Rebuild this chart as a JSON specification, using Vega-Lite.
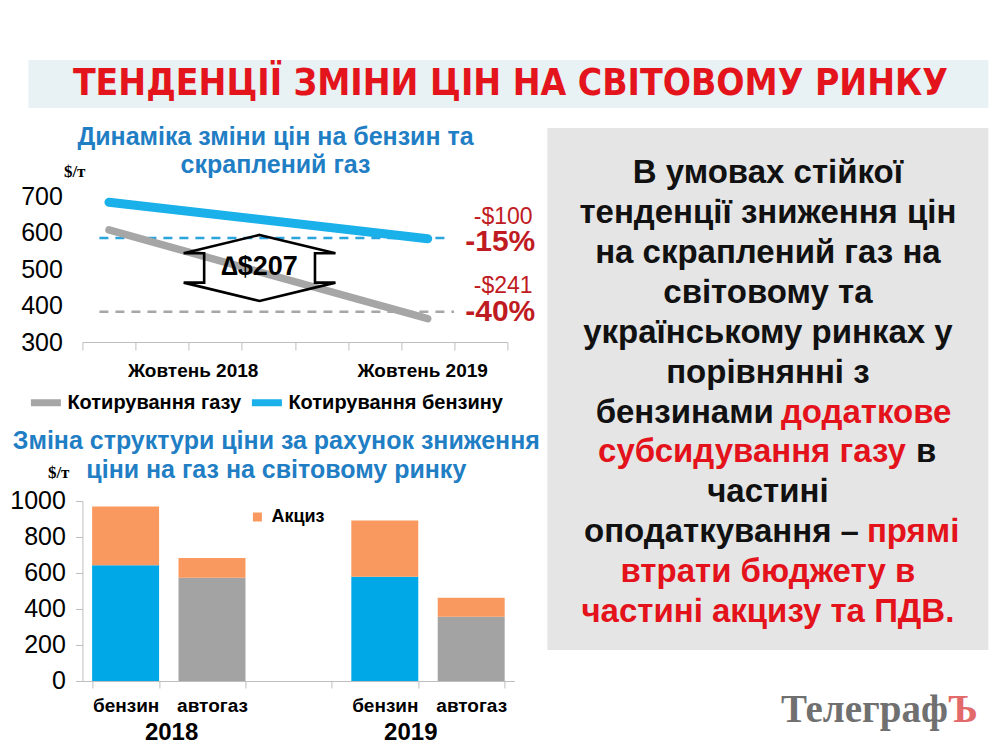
{
  "$schema": "https://vega.github.io/schema/vega-lite/v6.json",
  "autosize": {"type": "pad"},
  "padding": {"left": 9.4, "top": 60, "right": 12, "bottom": 5},
  "background": "white",
  "bounds": "flush",
  "spacing": 20,
  "config": {
    "view": {"stroke": null},
    "font": "Liberation Sans",
    "axis": {"labelFont": "Liberation Sans", "titleFont": "Liberation Sans"},
    "legend": {"labelFont": "Liberation Sans"}
  },
  "resolve": {"scale": {"color": "independent"}, "legend": {"color": "independent"}},
  "vconcat": [
    {
      "width": 960,
      "height": 48,
      "view": {"fill": "#e8f1f3", "stroke": null},
      "data": {"values": [{"title": "ТЕНДЕНЦІЇ ЗМІНИ ЦІН НА СВІТОВОМУ РИНКУ"}]},
      "mark": {"type": "text", "font": "Liberation Sans Narrow, DejaVu Sans Condensed, sans-serif", "fontWeight": "bold", "fontSize": 37, "color": "#e3141b", "dx": 2},
      "encoding": {"text": {"field": "title"}}
    },
    {
      "bounds": "flush",
      "spacing": 33,
      "resolve": {"scale": {"color": "independent"}, "legend": {"color": "independent"}},
      "hconcat": [
        {
          "width": 486,
          "height": 553,
          "layer": [
            {
              "layer": [
                {
                  "data": {"values": [{}]},
                  "mark": {"type": "rule", "color": "#2aa4dc", "strokeWidth": 2.5, "strokeDash": [9, 7]},
                  "encoding": {"y": {"datum": 585}, "x": {"datum": -0.36}, "x2": {"datum": 12.86}}
                },
                {
                  "data": {"values": [{}]},
                  "mark": {"type": "rule", "color": "#a6a6a6", "strokeWidth": 2.5, "strokeDash": [9, 7]},
                  "encoding": {"y": {"datum": 383}, "x": {"datum": -0.36}, "x2": {"datum": 12.99}}
                },
                {
                  "data": {"values": [
                    {"series": "Котирування газу", "month": 0, "period": "Жовтень 2018", "price": 607},
                    {"series": "Котирування газу", "month": 12, "period": "Жовтень 2019", "price": 364},
                    {"series": "Котирування бензину", "month": 0, "period": "Жовтень 2018", "price": 683},
                    {"series": "Котирування бензину", "month": 12, "period": "Жовтень 2019", "price": 583}
                  ]},
                  "mark": {"type": "line", "strokeCap": "round"},
                  "encoding": {
                    "x": {
                      "field": "month", "type": "quantitative",
                      "scale": {"domain": [-1, 15], "range": [54, 479], "nice": false, "zero": false},
                      "axis": {
                        "orient": "bottom", "offset": -339,
                        "values": [-1, 1, 3, 5, 7, 9, 11, 13, 15], "grid": false, "title": null,
                        "domainColor": "#bfbfbf", "tickColor": "#bfbfbf", "tickSize": 8,
                        "labelExpr": "datum.value == 3 ? 'Жовтень 2018' : (datum.value == 11 ? 'Жовтень 2019' : '')",
                        "labelFontSize": 19, "labelFontWeight": "bold", "labelColor": "#000000",
                        "labelPadding": 11, "labelOverlap": false, "labelBound": false, "labelFlush": false,
                        "labelOffset": {"condition": {"test": "datum.value == 11", "value": 21}, "value": 4}
                      }
                    },
                    "y": {
                      "field": "price", "type": "quantitative",
                      "scale": {"domain": [300, 700], "range": [214, 68], "nice": false, "zero": false},
                      "axis": {
                        "orient": "left", "offset": -54,
                        "values": [300, 400, 500, 600, 700], "domain": false, "ticks": false,
                        "gridColor": "#c8c8c8", "labelFontSize": 25, "labelColor": "#000000", "labelPadding": 20,
                        "title": "$/т", "titleAngle": 0, "titleAlign": "left", "titleBaseline": "middle",
                        "titleX": -19, "titleY": 43, "titleFont": "Liberation Serif", "titleFontSize": 17,
                        "titleFontWeight": "bold", "titleColor": "#000000"
                      }
                    },
                    "color": {
                      "field": "series", "type": "nominal",
                      "scale": {"domain": ["Котирування газу", "Котирування бензину"], "range": ["#a6a6a6", "#1ab0ea"]},
                      "legend": {
                        "orient": "none", "legendX": -1, "legendY": 256, "direction": "horizontal", "title": null,
                        "symbolType": "stroke", "symbolSize": 900, "symbolStrokeWidth": 7,
                        "labelFontSize": 20, "labelFontWeight": "bold", "labelColor": "#000000", "labelLimit": 0,
                        "columnPadding": -4, "labelOffset": 3
                      }
                    },
                    "strokeWidth": {
                      "field": "series", "type": "nominal",
                      "scale": {"domain": ["Котирування газу", "Котирування бензину"], "range": [7.5, 9]},
                      "legend": null
                    }
                  }
                },
                {
                  "data": {"values": [{}]},
                  "mark": {
                    "type": "point",
                    "shape": "M0,-0.435L1,-0.194L0.73,-0.194L0.73,0.194L1,0.194L0,0.435L-1,0.194L-0.73,0.194L-0.73,-0.194L-1,-0.194Z",
                    "size": 23043, "filled": false, "stroke": "#000000", "strokeWidth": 2.6, "opacity": 1
                  },
                  "encoding": {"x": {"datum": 5.67}, "y": {"datum": 503}}
                },
                {
                  "data": {"values": [{}]},
                  "mark": {"type": "text", "text": "∆$207", "fontSize": 27, "fontWeight": "bold", "color": "#000000"},
                  "encoding": {"x": {"datum": 5.67}, "y": {"datum": 506}}
                },
                {
                  "data": {"values": [{}]},
                  "mark": {"type": "text", "text": "-$100", "fontSize": 23, "align": "right", "color": "#bf1b22"},
                  "encoding": {"x": {"datum": 15.95}, "y": {"datum": 643}}
                },
                {
                  "data": {"values": [{}]},
                  "mark": {"type": "text", "text": "-15%", "fontSize": 30, "fontWeight": "bold", "align": "right", "color": "#bf1b22"},
                  "encoding": {"x": {"datum": 16.05}, "y": {"datum": 575}}
                },
                {
                  "data": {"values": [{}]},
                  "mark": {"type": "text", "text": "-$241", "fontSize": 23, "align": "right", "color": "#bf1b22"},
                  "encoding": {"x": {"datum": 15.95}, "y": {"datum": 453}}
                },
                {
                  "data": {"values": [{}]},
                  "mark": {"type": "text", "text": "-40%", "fontSize": 30, "fontWeight": "bold", "align": "right", "color": "#bf1b22"},
                  "encoding": {"x": {"datum": 16.05}, "y": {"datum": 383}}
                },
                {
                  "data": {"values": [{}]},
                  "mark": {"type": "text", "text": ["Динаміка зміни цін на бензин та", "скраплений газ"], "lineHeight": 28, "fontSize": 25, "fontWeight": "bold", "color": "#1f7ec4"},
                  "encoding": {"x": {"datum": 6.27}, "y": {"datum": 862}}
                },
                {
                  "data": {"values": [{}]},
                  "mark": {"type": "text", "text": ["Зміна структури ціни за рахунок зниження", "ціни на газ на світовому ринку"], "lineHeight": 29.5, "fontSize": 25, "fontWeight": "bold", "color": "#1f7ec4"},
                  "encoding": {"x": {"datum": 6.3}, "y": {"datum": 30}}
                }
              ]
            },
            {
              "data": {"values": [
                {"year": "2018", "fuel": "бензин", "slot": "2018 бензин", "part": "бензин", "value": 643},
                {"year": "2018", "fuel": "бензин", "slot": "2018 бензин", "part": "Акциз", "value": 326},
                {"year": "2018", "fuel": "автогаз", "slot": "2018 автогаз", "part": "автогаз", "value": 573},
                {"year": "2018", "fuel": "автогаз", "slot": "2018 автогаз", "part": "Акциз", "value": 110},
                {"year": "2019", "fuel": "бензин", "slot": "2019 бензин", "part": "бензин", "value": 579},
                {"year": "2019", "fuel": "бензин", "slot": "2019 бензин", "part": "Акциз", "value": 313},
                {"year": "2019", "fuel": "автогаз", "slot": "2019 автогаз", "part": "автогаз", "value": 357},
                {"year": "2019", "fuel": "автогаз", "slot": "2019 автогаз", "part": "Акциз", "value": 106}
              ]},
              "layer": [
                {
                  "mark": {"type": "bar"},
                  "encoding": {
                    "x": {
                      "field": "slot", "type": "nominal", "sort": null,
                      "scale": {"domain": ["2018 бензин", "2018 автогаз", "-", "2019 бензин", "2019 автогаз"], "range": [54, 486], "paddingInner": 0.225, "paddingOuter": 0.1125},
                      "axis": {
                        "title": null, "orient": "bottom", "labelAngle": 0, "tickBand": "extent", "tickSize": 7,
                        "tickColor": "#bfbfbf", "domainColor": "#bfbfbf",
                        "labelExpr": "datum.value == '-' ? '' : split(datum.value, ' ')[1]",
                        "labelFontSize": 19, "labelFontWeight": "bold", "labelColor": "#000000", "labelPadding": 9
                      }
                    },
                    "y": {
                      "field": "value", "type": "quantitative", "stack": "zero",
                      "scale": {"domain": [0, 1000], "range": [553, 373], "nice": false},
                      "axis": {
                        "orient": "left", "offset": -54, "format": "d",
                        "values": [0, 200, 400, 600, 800, 1000], "tickSize": 7, "tickColor": "#bfbfbf",
                        "domainColor": "#bfbfbf", "gridColor": "#c8c8c8", "labelFontSize": 25,
                        "labelColor": "#000000", "labelPadding": 10,
                        "title": "$/т", "titleAngle": 0, "titleAlign": "left", "titleBaseline": "middle",
                        "titleX": -35, "titleY": 344.6, "titleFont": "Liberation Serif", "titleFontSize": 17,
                        "titleFontWeight": "bold", "titleColor": "#000000"
                      }
                    },
                    "color": {
                      "field": "part", "type": "nominal",
                      "scale": {"domain": ["бензин", "автогаз", "Акциз"], "range": ["#00a8e8", "#a3a3a3", "#f9995f"]},
                      "legend": {
                        "values": ["Акциз"], "orient": "none", "legendX": 220, "legendY": 380, "title": null,
                        "symbolType": "square", "symbolSize": 81, "labelFontSize": 18, "labelFontWeight": "bold",
                        "labelColor": "#000000", "labelOffset": 5
                      }
                    },
                    "order": {"field": "part", "sort": "descending"}
                  }
                },
                {
                  "mark": {"type": "text", "text": ""},
                  "encoding": {
                    "x": {
                      "field": "slot", "type": "nominal", "sort": null,
                      "axis": {
                        "title": null, "orient": "bottom", "values": ["2018 бензин", "2019 бензин"],
                        "labelExpr": "slice(datum.value, 0, 4)", "labelAngle": 0,
                        "domain": false, "ticks": false, "tickSize": 0, "grid": false,
                        "labelFontSize": 24, "labelFontWeight": "bold", "labelColor": "#000000", "labelPadding": 40,
                        "labelOffset": {"condition": {"test": "datum.value == '2019 бензин'", "value": 26}, "value": 46}
                      }
                    }
                  }
                }
              ],
              "resolve": {"axis": {"x": "independent"}}
            }
          ],
          "resolve": {
            "scale": {"x": "independent", "y": "independent", "color": "independent"},
            "axis": {"x": "independent", "y": "independent"},
            "legend": {"color": "independent"}
          }
        },
        {
          "width": 441,
          "height": 522,
          "view": {"fill": "#e5e5e5", "stroke": null},
          "layer": [
            {
              "data": {"values": [
                {"line": 1, "part": "ціла", "kind": "звичайний", "text": "В умовах стійкої"},
                {"line": 2, "part": "ціла", "kind": "звичайний", "text": "тенденції зниження цін"},
                {"line": 3, "part": "ціла", "kind": "звичайний", "text": "на скраплений газ на"},
                {"line": 4, "part": "ціла", "kind": "звичайний", "text": "світовому та"},
                {"line": 5, "part": "ціла", "kind": "звичайний", "text": "українському ринках у"},
                {"line": 6, "part": "ціла", "kind": "звичайний", "text": "порівнянні з"},
                {"line": 7, "part": "ліва", "kind": "звичайний", "text": "бензинами"},
                {"line": 7, "part": "права", "kind": "акцент", "text": "додаткове"},
                {"line": 8, "part": "ліва", "kind": "акцент", "text": "субсидування газу"},
                {"line": 8, "part": "права", "kind": "звичайний", "text": "в"},
                {"line": 9, "part": "ціла", "kind": "звичайний", "text": "частині"},
                {"line": 10, "part": "ліва", "kind": "звичайний", "text": "оподаткування –"},
                {"line": 10, "part": "права", "kind": "акцент", "text": "прямі"},
                {"line": 11, "part": "ціла", "kind": "акцент", "text": "втрати бюджету в"},
                {"line": 12, "part": "ціла", "kind": "акцент", "text": "частині акцизу та ПДВ."}
              ]},
              "encoding": {
                "y": {"field": "line", "type": "quantitative", "scale": {"domain": [12.95, -0.128], "nice": false, "zero": false}, "axis": null},
                "text": {"field": "text"},
                "color": {"field": "kind", "type": "nominal", "scale": {"domain": ["звичайний", "акцент"], "range": ["#111111", "#e3121b"]}, "legend": null}
              },
              "layer": [
                {"transform": [{"filter": "datum.part == 'ціла'"}], "mark": {"type": "text", "fontSize": 33, "fontWeight": "bold"}},
                {"transform": [{"filter": "datum.line == 7 && datum.part == 'ліва'"}], "mark": {"type": "text", "fontSize": 33, "fontWeight": "bold", "align": "right", "dx": 6}},
                {"transform": [{"filter": "datum.line == 7 && datum.part == 'права'"}], "mark": {"type": "text", "fontSize": 33, "fontWeight": "bold", "align": "left", "dx": 13}},
                {"transform": [{"filter": "datum.line == 8 && datum.part == 'ліва'"}], "mark": {"type": "text", "fontSize": 33, "fontWeight": "bold", "align": "right", "dx": 138}},
                {"transform": [{"filter": "datum.line == 8 && datum.part == 'права'"}], "mark": {"type": "text", "fontSize": 33, "fontWeight": "bold", "align": "left", "dx": 148}},
                {"transform": [{"filter": "datum.line == 10 && datum.part == 'ліва'"}], "mark": {"type": "text", "fontSize": 33, "fontWeight": "bold", "align": "right", "dx": 91}},
                {"transform": [{"filter": "datum.line == 10 && datum.part == 'права'"}], "mark": {"type": "text", "fontSize": 33, "fontWeight": "bold", "align": "left", "dx": 99}}
              ]
            },
            {
              "data": {"values": [{}]},
              "mark": {"type": "text", "text": "Телеграф", "font": "Liberation Serif", "fontSize": 39, "fontWeight": "bold", "align": "right", "dx": 180, "color": "#707070"},
              "encoding": {"y": {"datum": 14.45}}
            },
            {
              "data": {"values": [{}]},
              "mark": {"type": "text", "text": "Ъ", "font": "Liberation Serif", "fontSize": 39, "fontWeight": "bold", "align": "left", "dx": 180, "color": "#e26a6a"},
              "encoding": {"y": {"datum": 14.45}}
            }
          ]
        }
      ]
    }
  ]
}
